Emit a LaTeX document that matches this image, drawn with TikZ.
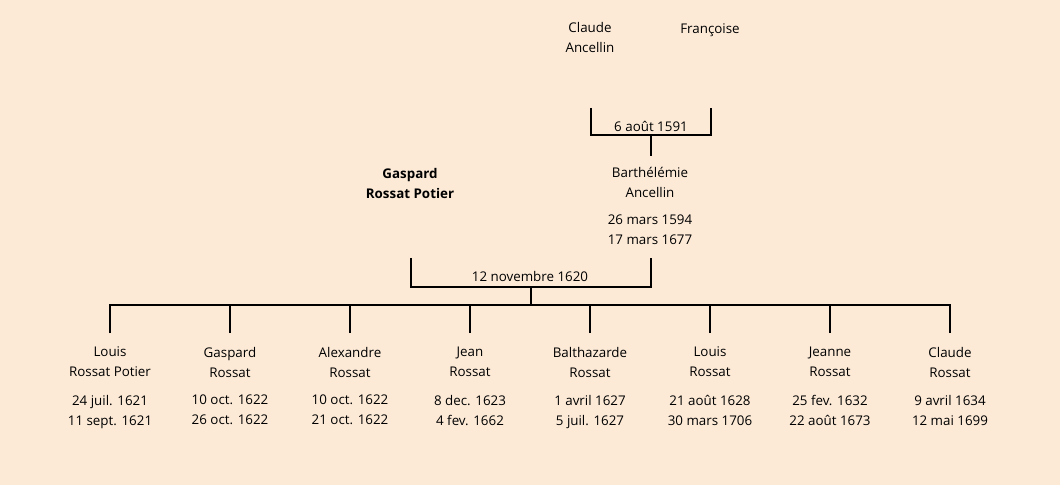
\documentclass[tikz,border=0pt]{standalone}
\usepackage{fontspec}
\setmainfont{Open Sans}
\usetikzlibrary{positioning}

\definecolor{parchment}{RGB}{252,234,215}

\begin{document}
\begin{tikzpicture}[x=0.025cm,y=-0.025cm]

\tikzstyle{person}=[align=center,inner sep=0pt,font=\fontsize{9.5}{14.2}\selectfont,
  execute at begin node=\strut,execute at end node=\strut]
\tikzstyle{wedding}=[person]
\tikzstyle{tie}=[line width=1.4pt]

   %draw page
    \fill[parchment] (0,0) rectangle (1060,485);
    \useasboundingbox (0,0) rectangle (1060,485);

   %first couple
    \node (claude) [person] at (590,40) {Claude\\Ancellin};
    \node (francoise) [person] at (710,30) {Françoise};

    \coordinate (claude_leg) at (591,108);
    \coordinate (francoise_leg) at (711,108);
    \draw [tie] (claude_leg) -- ++(0,27) -| (francoise_leg);
    \node (wed1) [wedding] at (651,128) {6 août 1591};

    \coordinate (wed1_drop) at (651,135);
    \coordinate (barth_top) at (651,156);
    \draw [tie] (wed1_drop) -- (barth_top);

   %second couple
    \node (gaspard) [person] at (410,186) {\textbf{Gaspard}\\\textbf{Rossat Potier}};
    \node (barth) [person] at (650,185) {Barthélémie\\Ancellin};
    \node (barth_dates) [person] at (650,233) {26 mars 1594\\17 mars 1677};

    \coordinate (gaspard_leg) at (411,258);
    \coordinate (barth_leg) at (651,258);
    \draw [tie] (gaspard_leg) -- ++(0,29) -| (barth_leg);
    \node (wed2) [wedding] at (530,278) {12 novembre 1620};

    \coordinate (wed2_drop) at (531,287);
    \coordinate (sibs) at (531,305);
    \draw [tie] (wed2_drop) -- (sibs);

   %children
    \foreach \i/\x/\name/\born/\died in {
        1/110/Louis\\Rossat Potier/24 juil. 1621/11 sept. 1621,
        2/230/Gaspard\\Rossat/10 oct. 1622/26 oct. 1622,
        3/350/Alexandre\\Rossat/10 oct. 1622/21 oct. 1622,
        4/470/Jean\\Rossat/8 dec. 1623/4 fev. 1662,
        5/590/Balthazarde\\Rossat/1 avril 1627/5 juil. 1627,
        6/710/Louis\\Rossat/21 août 1628/30 mars 1706,
        7/830/Jeanne\\Rossat/25 fev. 1632/22 août 1673,
        8/950/Claude\\Rossat/9 avril 1634/12 mai 1699}
    {
        \node (kid\i) [person] at (\x,365) {\name};
        \node (kid_dates\i) [person] at (\x,413) {\born\\\died};
        \coordinate (kid_leg\i) at (\x,333);
        \draw [tie] (kid_leg\i) -- (kid_leg\i |- sibs);
    }

    \draw [tie] (kid_leg1) -- (kid_leg1 |- sibs) -- (kid_leg8 |- sibs) -- (kid_leg8);

\end{tikzpicture}
\end{document}
